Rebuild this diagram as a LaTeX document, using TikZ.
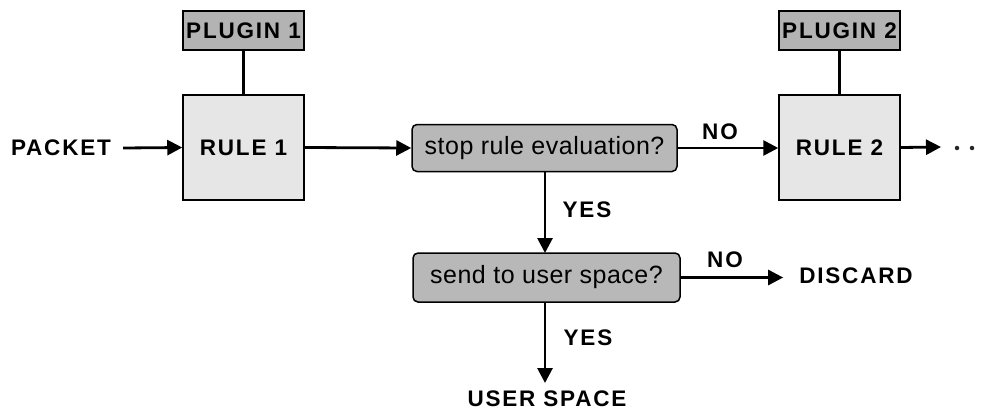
\documentclass[tikz,border=0pt]{standalone}
\usepackage{fontspec}
\setmainfont{Liberation Sans}
\usetikzlibrary{arrows.meta}
\definecolor{plugfill}{HTML}{B3B3B3}
\definecolor{decfill}{HTML}{B8B8B8}
\definecolor{rulefill}{HTML}{E6E6E6}
\newcommand{\boldlbl}{\fontsize{22.5}{26}\selectfont\bfseries\addfontfeatures{LetterSpace=8}}
\newcommand{\declbl}{\fontsize{25}{29}\selectfont\addfontfeatures{LetterSpace=2}}
\tikzset{
  lbl/.style={font=\boldlbl, inner sep=0pt},
  plugbox/.style={draw, line width=1.5pt, fill=plugfill, minimum width=121pt, minimum height=39pt, inner sep=0pt, font=\boldlbl},
  rulebox/.style={draw, line width=1.5pt, fill=rulefill, minimum width=121pt, minimum height=105pt, inner sep=0pt, font=\boldlbl},
  decbox/.style={draw, line width=1.5pt, fill=decfill, rounded corners=5pt, minimum height=47pt, inner sep=0pt, font=\declbl},
  conn/.style={line width=2.8pt},
  flow/.style={line width=2.8pt, -{Triangle[length=15pt,width=15pt]}},
  dot/.style={circle, fill=black!85, inner sep=0pt, minimum size=4.5pt}
}
\begin{document}
\begin{tikzpicture}[x=1pt,y=-1pt]
\useasboundingbox (0,0) rectangle (981,412);

% rule chain
\node[plugbox] (p1) at (243.5,30.5) {PLUGIN 1};
\node[rulebox] (r1) at (243.5,147.5) {RULE 1};
\node[plugbox] (p2) at (839.5,30.5) {PLUGIN 2};
\node[rulebox] (r2) at (839.5,147.5) {RULE 2};

% decisions
\node[decbox, minimum width=265pt] (d1) at (544.5,148) {stop rule evaluation?};
\node[decbox, minimum width=267pt, minimum height=49pt] (d2) at (546.5,277.5) {send to user space?};

% terminal labels
\node[lbl] (pk) at (61,148) {PACKET};
\node[lbl] (dc) at (856,276) {DISCARD};
\node[lbl] (us) at (547,399) {USER SPACE};
\node[dot] (dot1) at (957,148) {};
\node[dot] (dot2) at (972,148) {};
\coordinate (cont) at (941,147);

% edge labels
\node[lbl] (no1) at (720,132) {NO};
\node[lbl] (yes1) at (587,210) {YES};
\node[lbl] (no2) at (725,260) {NO};
\node[lbl] (yes2) at (588,338) {YES};

% connectors
\draw[conn] (p1) -- (r1);
\draw[conn] (p2) -- (r2);
\draw[flow] ([xshift=12pt]pk.east) -- (r1.west);
\draw[flow] (r1.east) -- (d1.west);
\draw[flow] (d1.east) -- (d1.east -| r2.west);
\draw[flow] (r2.east) -- (cont);
\draw[flow] (545,171.5) -- (545,253);
\draw[flow] (d2.east) -- ([xshift=-16pt]dc.west |- d2.east);
\draw[flow] (545,302) -- (545,383);
\end{tikzpicture}
\end{document}
